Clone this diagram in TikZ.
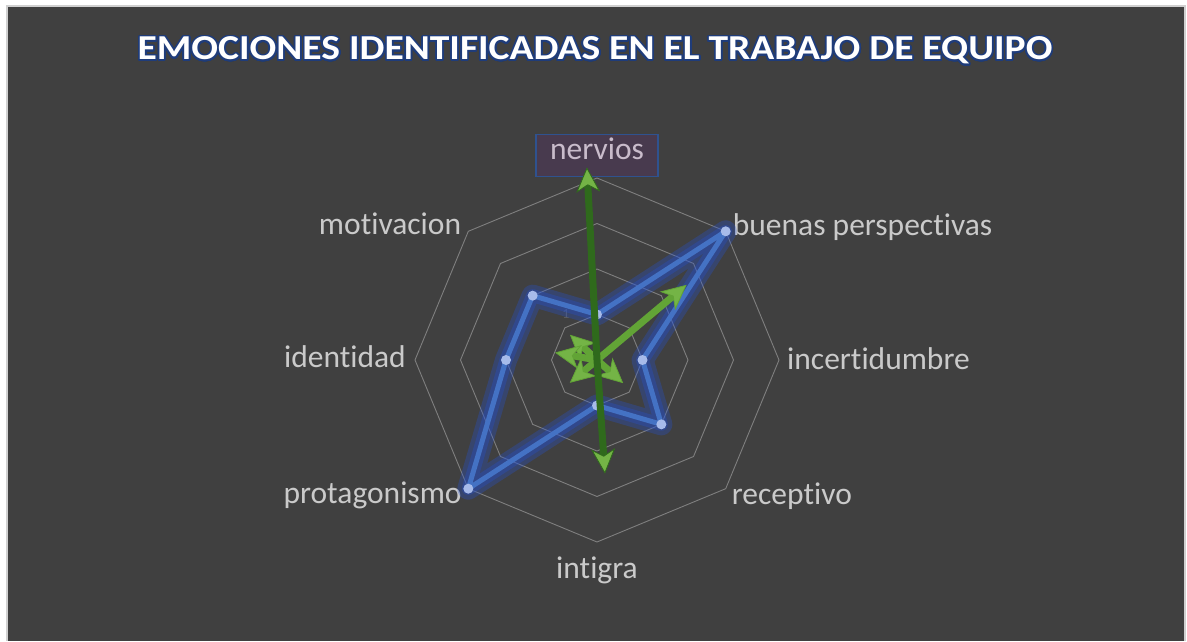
\documentclass[tikz,border=0pt]{standalone}
\usepackage{fontspec}
\setmainfont{Carlito}[Ligatures=NoCommon]
\usepackage{contour}
\contourlength{1.5pt}
\contournumber{32}
\usetikzlibrary{positioning,calc,arrows.meta}

\definecolor{chartbg}{HTML}{404040}
\definecolor{framegray}{HTML}{D0D0D0}
\definecolor{gridgray}{HTML}{7F7F7F}
\definecolor{labelgray}{HTML}{CACACA}
\definecolor{tickgray}{HTML}{5E5E5E}
\definecolor{seriesblue}{HTML}{4472C4}
\definecolor{glowblue}{HTML}{2452D6}
\definecolor{markblue}{HTML}{A7BBEA}
\definecolor{arrowgreen}{HTML}{74B446}
\definecolor{lightgreen}{HTML}{62A436}
\definecolor{darkgreen}{HTML}{2F6A1C}
\definecolor{titleblue}{HTML}{1F3C7A}
\definecolor{boxfill}{HTML}{483A4E}
\definecolor{boxline}{HTML}{2F528F}
\definecolor{nervtext}{HTML}{C9BCCB}

\begin{document}
\begin{tikzpicture}[x=1pt, y=1pt, node distance = 6pt]
    \tikzstyle{lbl} = [text=labelgray, font=\fontsize{31.5}{36}\selectfont, inner sep=0pt]
    \tikzstyle{ring} = [draw=gridgray, line width=0.9pt]
    \tikzstyle{series} = [draw=seriesblue, line width=5pt, line join=round]
    \tikzstyle{glow} = [draw=glowblue, line join=round, opacity=0.3]
    \tikzstyle{dot} = [circle, fill=markblue, inner sep=0pt, minimum size=10pt]
    \tikzstyle{greenarrow} = [-{Stealth[length=25pt, width=24pt, inset=7pt, line width=0.8pt, fill=arrowgreen]}, line width=7pt]

    \useasboundingbox (0,0) rectangle (1187,641);
    \fill[white] (0,0) rectangle (1187,641);
    \fill[chartbg] (7,0) rectangle (1185,635);
    \draw[framegray, line width=1.2pt] (7,0) -- (7,635) -- (1185,635) -- (1185,0);

    \node[text=white, font=\bfseries\fontsize{35}{40}\selectfont, anchor=base] (title) at (595,581)
        {\scalebox{1.13}[1]{\contour{titleblue}{EMOCIONES IDENTIFICADAS EN EL TRABAJO DE EQUIPO}}};

    % radar grid
    \coordinate (C) at (597,281);
    \foreach \r in {1,...,4}
        \draw[ring, shift={(C)}] (90:\r*45.5) \foreach \a in {45,0,...,-225} { -- (\a:\r*45.5) } -- cycle;
    \foreach \i in {1,...,8}
        \coordinate (A\i) at ($(C)+({135-45*\i}:182)$);
    \node[text=tickgray, font=\fontsize{14}{16}\selectfont, inner sep=0pt] (tick1) at ($(C)+(-31,46)$) {1};

    % labels
    \node[lbl, above = 1pt of A1, fill=boxfill, draw=boxline, line width=1.2pt, minimum width=122pt,
          text height=25pt, text depth=17pt, text=nervtext] (nerv) {nervios};
    \node[lbl, right = 7pt of A2, anchor=base west, yshift=-4pt] (buenas) {buenas perspectivas};
    \node[lbl, right = 8pt of A3, anchor=base west, yshift=-10pt] (incert) {incertidumbre};
    \node[lbl, right = 6pt of A4, anchor=base west, yshift=-16pt] (recep) {receptivo};
    \node[lbl, below = 36.5pt of A5, anchor=base] (intigra) {intigra};
    \node[lbl, left = 6.5pt of A6, anchor=base east, yshift=-15pt] (protag) {protagonismo};
    \node[lbl, left = 9pt of A7, anchor=base east, yshift=-8pt] (ident) {identidad};
    \node[lbl, left = 7pt of A8, anchor=base east, yshift=-3pt] (motiv) {motivacion};

    % blue series
    \foreach \v [count=\i] in {1,4,1,2,1,4,2,2}
        \coordinate (B\i) at ($(C)+({135-45*\i}:\v*45.5)$);
    \foreach \w in {22pt,13pt}
        \draw[glow, line width=\w] (B1) -- (B2) -- (B3) -- (B4) -- (B5) -- (B6) -- (B7) -- (B8) -- cycle;
    \draw[series] (B1) -- (B2) -- (B3) -- (B4) -- (B5) -- (B6) -- (B7) -- (B8) -- cycle;
    \foreach \i in {1,...,8}
        \node[dot] (b\i) at (B\i) {};

    % green series
    \foreach \a/\r [count=\i] in {137/37, 170/42.6, 220/35.5, -41.5/35, 40/117, 93/193, -86/114}
        \coordinate (G\i) at ($(C)+(\a:\r)$);
    \foreach \i/\col in {1/lightgreen, 2/lightgreen, 3/lightgreen, 4/lightgreen, 5/lightgreen, 6/darkgreen, 7/darkgreen}
        \draw[greenarrow, draw=\col] (C) -- (G\i);
\end{tikzpicture}
\end{document}
